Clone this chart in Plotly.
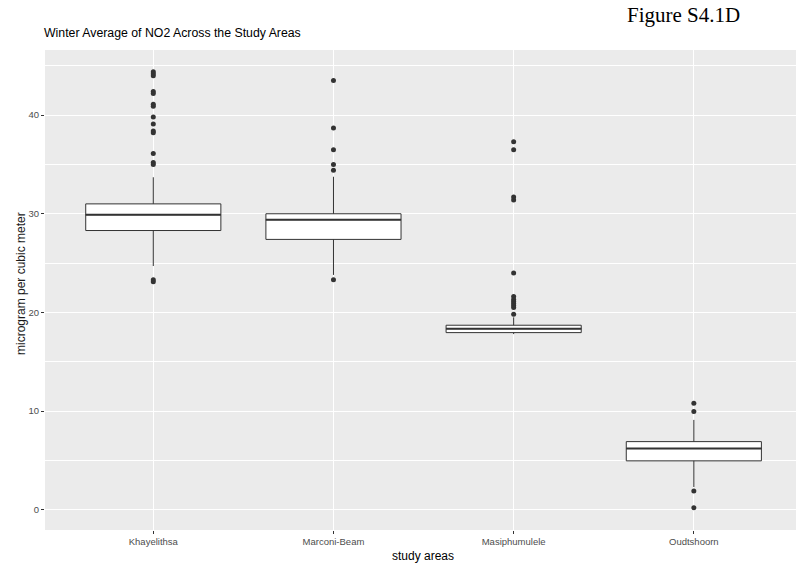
import plotly.graph_objects as go

areas = ["Khayelithsa", "Marconi-Beam", "Masiphumulele", "Oudtshoorn"]
positions = [1, 2, 3, 4]
q1 = [28.3, 27.4, 17.95, 4.95]
median = [29.9, 29.4, 18.35, 6.2]
q3 = [31.0, 30.0, 18.7, 6.9]
lower_whisker = [24.7, 23.8, 17.8, 2.3]
upper_whisker = [33.7, 33.75, 19.5, 9.1]

outliers = {
    "Khayelithsa": [44.4, 44.2, 44.0, 42.4, 42.2, 41.1, 40.9, 39.8, 39.1, 38.4, 38.2, 36.1, 35.2, 35.0, 23.3, 23.1],
    "Marconi-Beam": [43.5, 38.7, 36.5, 35.0, 34.4, 23.3],
    "Masiphumulele": [37.3, 36.5, 31.7, 31.4, 24.0, 21.6, 21.3, 21.1, 20.9, 20.7, 20.5, 19.8],
    "Oudtshoorn": [10.8, 9.95, 1.9, 0.2],
}

box_width = 0.75
line_col = "#333333"
font_fam = "Liberation Sans Narrow, Arial Narrow, Liberation Sans, Arial, sans-serif"

# plot area in pixels
L, R, T, B = 45, 796, 50, 530
W, H = R - L, B - T

fig = go.Figure()
fig.add_trace(go.Box(
    x=positions, q1=q1, median=median, q3=q3,
    lowerfence=lower_whisker, upperfence=upper_whisker,
    width=box_width, whiskerwidth=0,
    fillcolor="white", line=dict(color=line_col, width=1),
    boxpoints=False, showlegend=False, hoverinfo="skip",
))

# thicker median line, as in ggplot
mx, my = [], []
for p, m in zip(positions, median):
    mx += [p - box_width / 2, p + box_width / 2, None]
    my += [m, m, None]
fig.add_trace(go.Scatter(x=mx, y=my, mode="lines",
                         line=dict(color=line_col, width=2),
                         showlegend=False, hoverinfo="skip"))

ox, oy = [], []
for p, a in zip(positions, areas):
    for v in outliers[a]:
        ox.append(p)
        oy.append(v)
fig.add_trace(go.Scatter(x=ox, y=oy, mode="markers",
                         marker=dict(color=line_col, size=5),
                         showlegend=False, hoverinfo="skip"))

fig.update_layout(
    width=796, height=567,
    margin=dict(l=L, r=796 - R, t=T, b=567 - B, autoexpand=False),
    paper_bgcolor="white", plot_bgcolor="#EBEBEB",
    font=dict(family=font_fam, color="#333333"),
    title=dict(text="Winter Average of NO2 Across the Study Areas",
               x=44 / 796, xref="container", xanchor="left",
               y=1 - 33 / 567, yref="container", yanchor="middle",
               font=dict(size=12.3, color="black", family=font_fam)),
    annotations=[
        dict(text="Figure S4.1D", xref="paper", yref="paper",
             x=(683 - L) / W, y=(B - 15) / H,
             xanchor="center", yanchor="middle", showarrow=False,
             font=dict(family="Liberation Serif, Times New Roman, serif",
                       size=21, color="black")),
        dict(text="study areas", xref="paper", yref="paper",
             x=(423 - L) / W, y=(B - 556) / H,
             xanchor="center", yanchor="middle", showarrow=False,
             font=dict(size=12, color="black")),
        dict(text="microgram per cubic meter", xref="paper", yref="paper",
             x=(21 - L) / W, y=(B - 284) / H, textangle=-90,
             xanchor="center", yanchor="middle", showarrow=False,
             font=dict(size=12, color="#1a1a1a")),
    ],
)
fig.update_xaxes(
    range=[0.399, 4.567], tickmode="array", tickvals=positions, ticktext=areas,
    showgrid=True, gridcolor="white", gridwidth=1, zeroline=False,
    ticks="outside", ticklen=3, tickcolor="#333333",
    tickfont=dict(size=9.5, color="#4D4D4D"), automargin=False,
)
fig.update_yaxes(
    range=[-2.06, 46.6], tickvals=[0, 10, 20, 30, 40],
    showgrid=True, gridcolor="white", gridwidth=1, zeroline=False,
    minor=dict(tickvals=[5, 15, 25, 35, 45], showgrid=True, gridcolor="white", gridwidth=0.5),
    ticks="outside", ticklen=3, tickcolor="#333333",
    tickfont=dict(size=9.5, color="#4D4D4D"), automargin=False,
)

fig.write_html("out.html", config={"displayModeBar": False},
               post_script="document.body.style.margin='0px';document.body.style.overflow='hidden';")
